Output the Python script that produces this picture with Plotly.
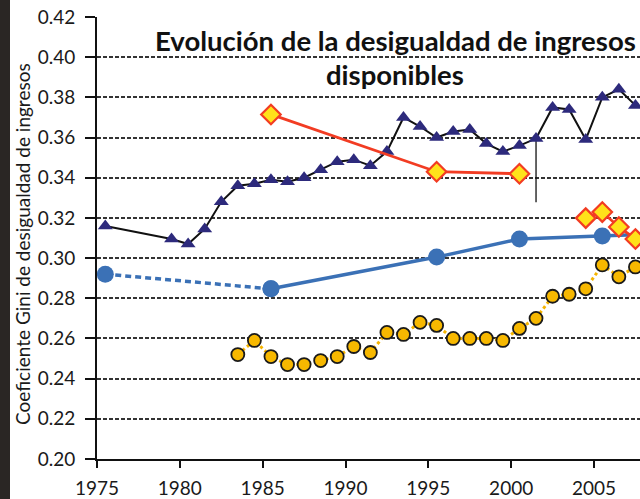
import plotly.graph_objects as go

# ---- data ----
tri_years = [1975, 1979, 1980, 1981, 1982, 1983, 1984, 1985, 1986, 1987, 1988, 1989,
             1990, 1991, 1992, 1993, 1994, 1995, 1996, 1997, 1998, 1999, 2000, 2001,
             2002, 2003, 2004, 2005, 2006, 2007]
tri_vals = [0.316, 0.3095, 0.307, 0.3145, 0.328, 0.336, 0.337, 0.339, 0.338, 0.340,
            0.344, 0.348, 0.349, 0.346, 0.353, 0.370, 0.3655, 0.360, 0.363, 0.364,
            0.357, 0.353, 0.356, 0.3595, 0.375, 0.374, 0.359, 0.380, 0.384, 0.376]

red_years = [1985, 1995, 2000, None, 2004, 2005, 2006, 2007]
red_vals = [0.3715, 0.343, 0.342, None, 0.3199, 0.3229, 0.3155, 0.3095]

blue_dash_years = [1975, 1985]
blue_dash_vals = [0.292, 0.2847]
blue_years = [1985, 1995, 2000, 2005, 2010]
blue_vals = [0.2847, 0.3005, 0.3095, 0.311, 0.3125]

orange_years = list(range(1983, 2008))
orange_vals = [0.252, 0.259, 0.251, 0.247, 0.247, 0.249, 0.251, 0.256, 0.253, 0.263,
               0.262, 0.268, 0.2665, 0.260, 0.260, 0.260, 0.259, 0.265, 0.270, 0.281,
               0.282, 0.2847, 0.2966, 0.2907, 0.2956]

break_year = [2001, 2001]
break_vals = [0.3595, 0.3278]

x_ticks = [1975, 1980, 1985, 1990, 1995, 2000, 2005, 2010]
y_ticks = [0.20, 0.22, 0.24, 0.26, 0.28, 0.30, 0.32, 0.34, 0.36, 0.38, 0.40, 0.42]

title_line1 = "Evolución de la desigualdad de ingresos"
title_line2 = "disponibles"
y_title = "Coeficiente Gini de desigualdad de ingresos"

def mid(years):
    return [None if y is None else y + 0.5 for y in years]

FONT = "Lato"
fig = go.Figure()

fig.add_trace(go.Scatter(
    x=mid(blue_dash_years), y=blue_dash_vals, mode="lines+markers",
    line=dict(color="#3b71b6", width=3.5, dash="6px,4px"),
    marker=dict(size=17, color="#3b71b6"), cliponaxis=False, showlegend=False))
fig.add_trace(go.Scatter(
    x=mid(blue_years), y=blue_vals, mode="lines+markers",
    line=dict(color="#3b71b6", width=3.5),
    marker=dict(size=17, color="#3b71b6"), showlegend=False))

fig.add_trace(go.Scatter(
    x=mid(orange_years), y=orange_vals, mode="lines+markers",
    line=dict(color="#f5b400", width=3, dash="dot"),
    marker=dict(size=13, color="#f7b800", line=dict(color="#1a1a1a", width=1.8)),
    showlegend=False))

fig.add_trace(go.Scatter(
    x=mid(break_year), y=break_vals, mode="lines",
    line=dict(color="#111111", width=1.3), showlegend=False))

fig.add_trace(go.Scatter(
    x=mid(tri_years), y=tri_vals, mode="lines+markers",
    line=dict(color="#111111", width=2),
    marker=dict(symbol="triangle-up", size=13, color="#2d2a7c"),
    showlegend=False))

fig.add_trace(go.Scatter(
    x=mid(red_years), y=red_vals, mode="lines+markers", connectgaps=False,
    line=dict(color="#f23c23", width=2.8),
    marker=dict(symbol="diamond", size=15, color="#ffe21a",
                line=dict(color="#f23c23", width=2.2)),
    showlegend=False))

W, H = 640, 499
L, R, T, B = 97, 0, 17, 38
pw, ph = W - L - R, H - T - B

fig.update_layout(
    width=W, height=H,
    margin=dict(l=L, r=R, t=T, b=B, pad=0),
    paper_bgcolor="white", plot_bgcolor="white",
    font=dict(family=FONT, color="#1a1a1a"),
    xaxis=dict(range=[1975, 1975 + pw / 16.567], tickvals=x_ticks,
               ticks="outside", ticklen=7, tickwidth=1.5, tickcolor="#111",
               ticklabelstandoff=4,
               showline=True, linecolor="#111", linewidth=1.8,
               showgrid=False, zeroline=False,
               tickfont=dict(size=19, family=FONT, color="#1a1a1a")),
    yaxis=dict(range=[0.20, 0.42], tickvals=y_ticks, tickformat=".2f",
               ticks="outside", ticklen=10, tickwidth=1.5, tickcolor="#111",
               ticklabelstandoff=6,
               showline=True, linecolor="#111", linewidth=1.8,
               showgrid=True, gridcolor="#333333", gridwidth=1.6,
               griddash="4px,2px", zeroline=False,
               tickfont=dict(size=19, family=FONT, color="#1a1a1a")),
    shapes=[dict(type="rect", xref="paper", yref="paper",
                 x0=-L / pw - 0.01, x1=(10 - L) / pw, y0=-B / ph - 0.01, y1=1 + T / ph + 0.01,
                 fillcolor="#2a2624", line=dict(width=0), layer="above")],
    annotations=[
        dict(text="<b>" + title_line1 + "</b>", xref="paper", yref="paper",
             x=(395 - L) / pw, y=1 - (41 - T) / ph, xanchor="center", yanchor="middle",
             showarrow=False, font=dict(size=27.5, family=FONT, color="#111")),
        dict(text="<b>" + title_line2 + "</b>", xref="paper", yref="paper",
             x=(395 - L) / pw, y=1 - (75 - T) / ph, xanchor="center", yanchor="middle",
             showarrow=False, font=dict(size=27.5, family=FONT, color="#111")),
        dict(text=y_title, xref="paper", yref="paper",
             x=(23 - L) / pw, y=1 - (245 - T) / ph, xanchor="center", yanchor="middle",
             textangle=-90, showarrow=False,
             font=dict(size=19, family=FONT, color="#1a1a1a")),
    ],
)

fig.write_html("out.html", config={"displayModeBar": False},
               post_script="document.body.style.margin='0';document.body.style.overflow='hidden';")
